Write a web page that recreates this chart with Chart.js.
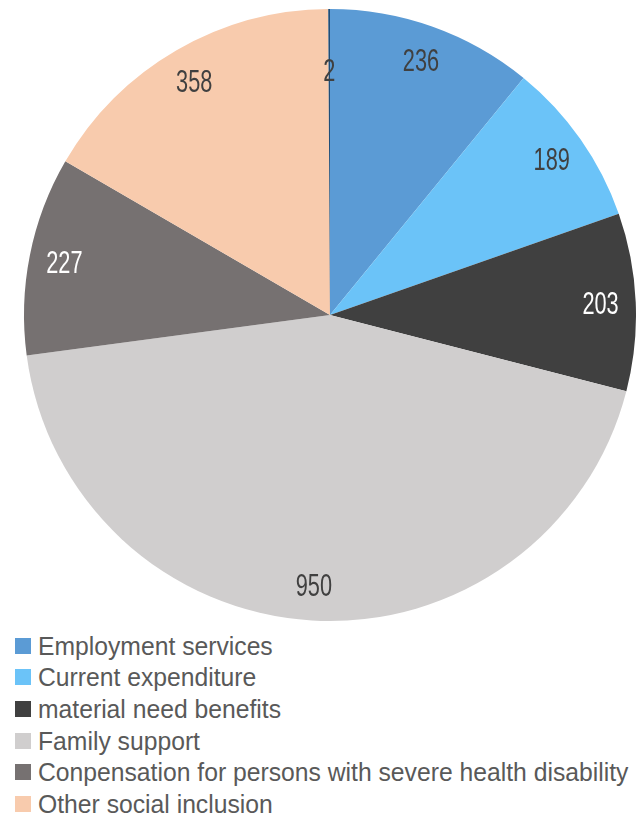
<!DOCTYPE html>
<html>
<head>
<meta charset="utf-8">
<script src="https://cdn.jsdelivr.net/npm/chart.js@4"></script>
<style>
  html, body { margin: 0; padding: 0; background: #fff; overflow: hidden; }
  #wrap { position: relative; width: 636px; height: 818px; }
  #pie { position: absolute; left: 0; top: 0; }
  #legend { position: absolute; left: 15px; top: 630px; font-family: "Liberation Sans", Arial, sans-serif; }
  .item { height: 31.6px; display: flex; align-items: center; white-space: nowrap; }
  .box { width: 16px; height: 16px; margin-right: 7px; flex: none; }
  .txt { font-size: 26px; color: #595959; display: inline-block; transform: scaleX(0.95); transform-origin: left center; line-height: 26px; }
</style>
</head>
<body>
<div id="wrap">
  <canvas id="pie" width="636" height="630"></canvas>
  <div id="legend"></div>
</div>
<script>
// dados do grafico
const categories = ['Employment services', 'Current expenditure', 'material need benefits', 'Family support',
  'Conpensation for persons with severe health disability', 'Other social inclusion', ''];
const values = [236, 189, 203, 950, 227, 358, 2];
const colors = ['#5b9bd5', '#6bc3f8', '#404040', '#d0cece', '#767171', '#f8cbad', '#1f4e79'];

// rotulos de valor dentro das fatias
const valueLabels = {
  id: 'valueLabels',
  afterDatasetsDraw(chart) {
    const ctx = chart.ctx;
    const meta = chart.getDatasetMeta(0);
    const total = values.reduce((a, b) => a + b, 0);
    meta.data.forEach(function(arc, i) {
      const p = arc.getProps(['x', 'y', 'startAngle', 'endAngle', 'outerRadius'], true);
      const mid = (p.startAngle + p.endAngle) / 2;
      const tiny = values[i] / total < 0.01;
      const r = p.outerRadius * (tiny ? 0.8 : 0.885);
      const x = p.x + Math.cos(mid) * r;
      const y = p.y + Math.sin(mid) * r;
      const c = colors[i];
      const lum = (parseInt(c.substr(1, 2), 16) * 0.299 + parseInt(c.substr(3, 2), 16) * 0.587 + parseInt(c.substr(5, 2), 16) * 0.114) / 255;
      ctx.save();
      ctx.translate(x, y);
      ctx.scale(0.68, 1);
      ctx.font = '32px "Liberation Sans", Arial, sans-serif';
      // fatia muito fina: o texto fica sobre as vizinhas, entao usa cinza escuro
      ctx.fillStyle = (lum < 0.5 && !tiny) ? '#ffffff' : '#404040';
      ctx.textAlign = 'center';
      ctx.textBaseline = 'middle';
      ctx.fillText(String(values[i]), 0, 2);
      ctx.restore();
    });
  }
};

const chart = new Chart(document.getElementById('pie').getContext('2d'), {
  type: 'pie',
  data: {
    labels: categories,
    datasets: [{ data: values, backgroundColor: colors, borderWidth: 0 }]
  },
  options: {
    responsive: false,
    animation: false,
    devicePixelRatio: 1,
    layout: { padding: { left: 24, right: 0, top: 9, bottom: 9 } },
    plugins: { legend: { display: false }, tooltip: { enabled: false } }
  },
  plugins: [valueLabels]
});

// legenda em html
const legend = document.getElementById('legend');
categories.forEach(function(name, i) {
  if (!name) return;
  const row = document.createElement('div');
  row.className = 'item';
  row.innerHTML = '<span class="box" style="background:' + colors[i] + '"></span><span class="txt">' + name + '</span>';
  legend.appendChild(row);
});
</script>
</body>
</html>
